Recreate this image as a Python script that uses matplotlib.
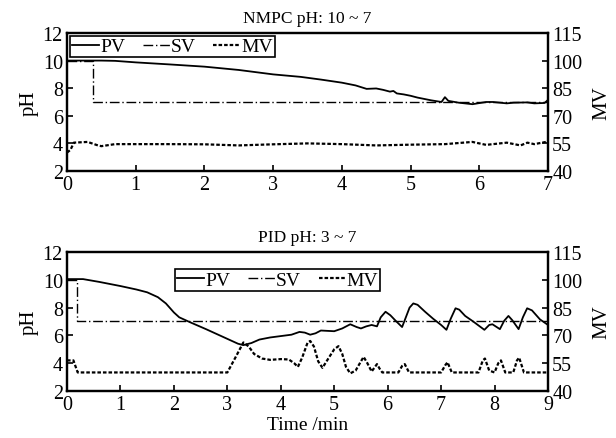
import numpy as np
import matplotlib
matplotlib.use("Agg")
import matplotlib.pyplot as plt

plt.rcParams['font.family'] = ['Liberation Serif', 'DejaVu Serif']

# ---- NMPC run (pH 10 -> 7) ----
t_pv1 = [0, 0.5, 0.7, 1.0, 1.5, 2.0, 2.5, 3.0, 3.4, 3.7, 4.0, 4.2, 4.36, 4.5, 4.6,
         4.7, 4.75, 4.8, 4.9, 5.0, 5.1, 5.3, 5.45, 5.5, 5.55, 5.7, 5.9, 6.1, 6.2,
         6.4, 6.5, 6.7, 6.8, 6.95, 7.0]
pv1 = [10.0, 10.0, 9.98, 9.87, 9.72, 9.56, 9.32, 9.0, 8.82, 8.62, 8.4, 8.2, 7.95, 7.98, 7.88,
       7.75, 7.8, 7.62, 7.55, 7.45, 7.32, 7.12, 7.0, 7.35, 7.08, 6.95, 6.84, 7.0, 7.0,
       6.9, 6.95, 6.97, 6.9, 6.93, 7.15]
t_sv1 = [0, 0.38, 0.38, 7.0]
sv1 = [10, 10, 7, 7]
t_mv1 = [0, 0.05, 0.1, 0.3, 0.45, 0.5, 0.7, 1.0, 1.5, 2.0, 2.5, 3.0, 3.5, 4.0, 4.5,
         5.0, 5.5, 5.9, 6.1, 6.4, 6.6, 6.7, 6.8, 7.0]
mv1 = [50.0, 51.5, 55.4, 55.8, 53.9, 53.5, 54.6, 54.6, 54.6, 54.5, 53.9, 54.5, 55.0, 54.6, 53.9,
       54.3, 54.6, 55.8, 54.2, 55.4, 53.9, 55.4, 54.6, 56.0]

# ---- PID run (pH 3 -> 7) ----
t_pv2 = [0, 0.3, 0.6, 1.0, 1.3, 1.5, 1.7, 1.85, 2.0, 2.1, 2.3, 2.6, 3.0, 3.2, 3.3,
         3.45, 3.6, 3.8, 4.0, 4.2, 4.35, 4.45, 4.55, 4.65, 4.75, 4.9, 5.0, 5.15, 5.3,
         5.42, 5.5, 5.6, 5.7, 5.8, 5.87, 5.96, 6.05, 6.15, 6.27, 6.34, 6.41, 6.48, 6.56,
         6.7, 6.85, 7.0, 7.1, 7.18, 7.27, 7.34, 7.45, 7.6, 7.81, 7.9, 7.96, 8.1, 8.18,
         8.26, 8.33, 8.45, 8.53, 8.61, 8.7, 8.85, 9.0]
pv2 = [10.05, 10.05, 9.85, 9.55, 9.3, 9.1, 8.75, 8.3, 7.65, 7.3, 6.95, 6.45, 5.75, 5.4, 5.3,
       5.45, 5.7, 5.85, 5.95, 6.05, 6.25, 6.2, 6.05, 6.15, 6.35, 6.32, 6.3, 6.5, 6.8,
       6.6, 6.5, 6.65, 6.75, 6.65, 7.3, 7.7, 7.45, 7.05, 6.6, 7.3, 8.0, 8.3, 8.2,
       7.7, 7.2, 6.75, 6.4, 7.2, 7.95, 7.85, 7.4, 7.0, 6.4, 6.75, 6.8, 6.45, 7.05,
       7.4, 7.1, 6.45, 7.3, 7.95, 7.8, 7.15, 6.75]
t_sv2 = [0, 0.18, 0.18, 9.0]
sv2 = [10, 10, 7, 7]
t_mv2 = [0, 0.12, 0.15, 0.2, 3.0, 3.15, 3.3, 3.4, 3.5, 3.65, 3.8, 4.0, 4.15, 4.25, 4.32,
         4.4, 4.5, 4.55, 4.62, 4.7, 4.78, 4.9, 5.0, 5.08, 5.15, 5.22, 5.3, 5.4, 5.5,
         5.55, 5.62, 5.7, 5.8, 5.85, 5.9, 6.2, 6.27, 6.32, 6.4, 7.0, 7.08, 7.12, 7.2,
         7.7, 7.78, 7.82, 7.9, 8.0, 8.07, 8.12, 8.2, 8.35, 8.42, 8.46, 8.55, 9.0]
mv2 = [56.5, 56.5, 54.0, 50.0, 50.0, 58.0, 66.2, 64.0, 60.0, 57.5, 56.8, 57.2, 57.0, 55.0, 53.0,
       58.0, 66.0, 67.0, 64.0, 56.0, 52.5, 58.0, 62.5, 64.2, 60.0, 53.0, 49.5, 51.0, 56.0,
       58.4, 55.0, 50.5, 54.5, 52.0, 50.0, 50.0, 53.5, 54.5, 50.0, 50.0, 54.0, 55.5, 50.0,
       50.0, 56.5, 57.5, 51.0, 50.0, 55.0, 56.5, 50.0, 50.0, 56.5, 58.0, 50.0, 50.0]

ph_ticks = [2, 4, 6, 8, 10, 12]
mv_ticks = [40, 55, 70, 85, 100, 115]

fig = plt.figure(figsize=(6.16, 4.39), dpi=100)
ax1 = fig.add_axes([0.1088, 0.6082, 0.7808, 0.3144])
ax2 = fig.add_axes([0.1088, 0.1071, 0.7808, 0.3166])

sv_style = (0, (7, 2, 1, 2))
mv_style = (0, (1.6, 0.9))


def panel(ax, t_pv, pv, t_sv, sv, t_mv, mv, xmax, title, legend_kw):
    axr = ax.twinx()
    l1, = ax.plot(t_pv, pv, color='black', lw=1.3, label='PV')
    l2, = ax.plot(t_sv, sv, color='black', lw=1.0, ls=sv_style, label='SV')
    l3, = axr.plot(t_mv, mv, color='black', lw=1.6, ls=mv_style, label='MV')
    ax.set_xlim(0, xmax)
    ax.set_ylim(2, 12)
    axr.set_ylim(40, 115)
    ax.set_xticks(range(0, xmax + 1))
    ax.set_yticks(ph_ticks)
    axr.set_yticks(mv_ticks)
    ax.set_ylabel('pH', fontsize=15, labelpad=3)
    axr.set_ylabel('MV', fontsize=15, labelpad=7)
    ax.set_title(title, fontsize=12.5, pad=8)
    for a in (ax, axr):
        a.tick_params(direction='in', labelsize=14.5, length=4, width=1.2, pad=3)
        for s in a.spines.values():
            s.set_linewidth(1.6)
    leg = ax.legend([l1, l2, l3], ['PV', 'SV', 'MV'], ncol=3, fontsize=14,
                    handlelength=1.4, handletextpad=0.05, columnspacing=0.9,
                    borderpad=0.1, fancybox=False, framealpha=1,
                    edgecolor='black', **legend_kw)
    leg.get_frame().set_linewidth(1.2)
    return axr


panel(ax1, t_pv1, pv1, t_sv1, sv1, t_mv1, mv1, 7, 'NMPC pH: 10 ~ 7',
      dict(loc='upper left', bbox_to_anchor=(0.0, 1.0), borderaxespad=0.15))
panel(ax2, t_pv2, pv2, t_sv2, sv2, t_mv2, mv2, 9, 'PID pH: 3 ~ 7',
      dict(loc='upper left', bbox_to_anchor=(0.225, 0.875), borderaxespad=0.0))
ax2.set_xlabel('Time /min', fontsize=14, labelpad=1)

fig.savefig('out.png', dpi=100)
